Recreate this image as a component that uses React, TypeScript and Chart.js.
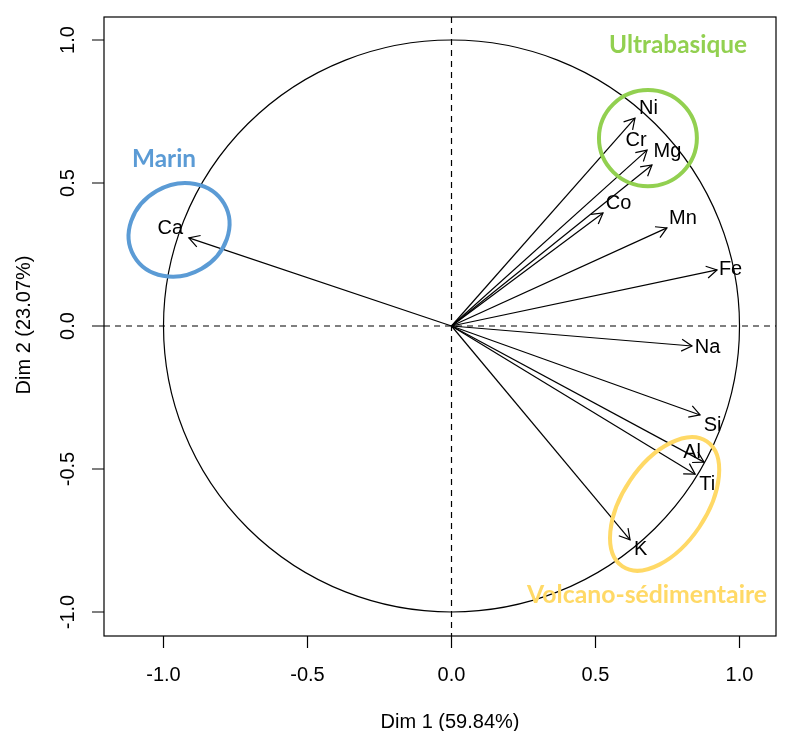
import React, { useEffect, useRef } from "react";
import { Chart, registerables } from "chart.js";
Chart.register(...registerables);

// ---- data ----
const variables = ["Ca", "Ni", "Cr", "Mg", "Co", "Mn", "Fe", "Na", "Si", "Al", "Ti", "K"];
const dim1 = [-0.912, 0.637, 0.679, 0.696, 0.526, 0.748, 0.922, 0.835, 0.863, 0.877, 0.846, 0.62];
const dim2 = [0.308, 0.727, 0.615, 0.563, 0.395, 0.343, 0.196, -0.07, -0.311, -0.476, -0.518, -0.748];
const xTicks = [-1, -0.5, 0, 0.5, 1];
const yTicks = [-1, -0.5, 0, 0.5, 1];
const tickLabels = ["-1.0", "-0.5", "0.0", "0.5", "1.0"];
const xTitle = "Dim 1 (59.84%)";
const yTitle = "Dim 2 (23.07%)";

// group annotations (data coordinates)
const groupNames = ["Ultrabasique", "Marin", "Volcano-sédimentaire"];
const groupCx = [0.682, -0.946, 0.74];
const groupCy = [0.657, 0.336, -0.622];
const groupRx = [0.17, 0.181, 0.262];
const groupRy = [0.168, 0.157, 0.146];
const groupRot = [0, -30, -56];
const groupLabelX = [0.7865, -0.998, 0.679];
const groupLabelY = [0.9545, 0.556, -0.9685];

// ---- style ----
const groupColors = ["#92D050", "#5B9BD5", "#FFD966"];
const groupLabelW = [138, 64, 240];
const labelDx = [-18.5, 13.5, -11, 15.5, 15.5, 16, 13.5, 15.5, 12.5, -12, 12, 10.5];
const labelDy = [-9.5, -10, -10, -13, -9.5, -9.5, 0, 1, 11, -10, 10.5, 10];
const FONT = "20px 'Liberation Sans', Arial, sans-serif";
const LW = 1.2;

const pcaPlugin = {
  id: "pca",
  beforeDatasetsDraw(chart: any) {
    const { ctx, chartArea: a, scales } = chart;
    const x = scales.x, y = scales.y;
    ctx.save();
    ctx.beginPath();
    ctx.rect(a.left, a.top, a.right - a.left, a.bottom - a.top);
    ctx.clip();
    ctx.strokeStyle = "#000";
    ctx.lineWidth = LW;
    const x0 = x.getPixelForValue(0), y0 = y.getPixelForValue(0);
    ctx.setLineDash([6, 5]);
    ctx.beginPath();
    ctx.moveTo(a.left, y0);
    ctx.lineTo(a.right, y0);
    ctx.moveTo(x0, a.top);
    ctx.lineTo(x0, a.bottom);
    ctx.stroke();
    ctx.setLineDash([]);
    const rx = x.getPixelForValue(1) - x0;
    const ry = y0 - y.getPixelForValue(1);
    ctx.beginPath();
    ctx.ellipse(x0, y0, rx, ry, 0, 0, Math.PI * 2);
    ctx.stroke();
    ctx.restore();
  },
  afterDatasetsDraw(chart: any) {
    const { ctx, scales } = chart;
    const x = scales.x, y = scales.y;
    const x0 = x.getPixelForValue(0), y0 = y.getPixelForValue(0);
    ctx.save();
    ctx.strokeStyle = "#000";
    ctx.lineWidth = LW;
    // arrowheads
    for (let i = 0; i < variables.length; i++) {
      const px = x.getPixelForValue(dim1[i]);
      const py = y.getPixelForValue(dim2[i]);
      const ang = Math.atan2(py - y0, px - x0);
      const L = 12, h = Math.PI / 6;
      ctx.beginPath();
      ctx.moveTo(px - L * Math.cos(ang - h), py - L * Math.sin(ang - h));
      ctx.lineTo(px, py);
      ctx.lineTo(px - L * Math.cos(ang + h), py - L * Math.sin(ang + h));
      ctx.stroke();
    }
    // labels
    ctx.fillStyle = "#000";
    ctx.font = FONT;
    ctx.textAlign = "center";
    ctx.textBaseline = "middle";
    for (let i = 0; i < variables.length; i++) {
      const px = x.getPixelForValue(dim1[i]);
      const py = y.getPixelForValue(dim2[i]);
      ctx.fillText(variables[i], px + labelDx[i], py + labelDy[i]);
    }
    // group ellipses
    const ux = x.getPixelForValue(1) - x0;
    const uy = y0 - y.getPixelForValue(1);
    for (let g = 0; g < groupNames.length; g++) {
      ctx.strokeStyle = groupColors[g];
      ctx.lineWidth = 4;
      ctx.beginPath();
      ctx.ellipse(
        x.getPixelForValue(groupCx[g]),
        y.getPixelForValue(groupCy[g]),
        groupRx[g] * ux,
        groupRy[g] * uy,
        (groupRot[g] * Math.PI) / 180,
        0,
        Math.PI * 2
      );
      ctx.stroke();
    }
    // group labels
    ctx.textBaseline = "alphabetic";
    for (let g = 0; g < groupNames.length; g++) {
      ctx.font = "bold 100px Lato, 'Open Sans', sans-serif";
      const w = ctx.measureText(groupNames[g]).width;
      const size = (100 * groupLabelW[g]) / w;
      ctx.font = `bold ${size}px Lato, 'Open Sans', sans-serif`;
      ctx.fillStyle = groupColors[g];
      ctx.fillText(groupNames[g], x.getPixelForValue(groupLabelX[g]), y.getPixelForValue(groupLabelY[g]));
    }
    ctx.restore();
  },
  afterDraw(chart: any) {
    const { ctx, chartArea: a, scales } = chart;
    const x = scales.x, y = scales.y;
    ctx.save();
    ctx.strokeStyle = "#000";
    ctx.lineWidth = LW;
    ctx.strokeRect(a.left, a.top, a.right - a.left, a.bottom - a.top);
    ctx.fillStyle = "#000";
    ctx.font = FONT;
    ctx.textAlign = "center";
    ctx.textBaseline = "alphabetic";
    ctx.beginPath();
    for (const v of xTicks) {
      const px = x.getPixelForValue(v);
      ctx.moveTo(px, a.bottom);
      ctx.lineTo(px, a.bottom + 12);
    }
    for (const v of yTicks) {
      const py = y.getPixelForValue(v);
      ctx.moveTo(a.left - 12, py);
      ctx.lineTo(a.left, py);
    }
    ctx.stroke();
    xTicks.forEach((v, i) => {
      ctx.fillText(tickLabels[i], x.getPixelForValue(v), a.bottom + 45);
    });
    yTicks.forEach((v, i) => {
      ctx.save();
      ctx.translate(a.left - 30, y.getPixelForValue(v));
      ctx.rotate(-Math.PI / 2);
      ctx.fillText(tickLabels[i], 0, 0);
      ctx.restore();
    });
    ctx.fillText(xTitle, 450, 728);
    ctx.save();
    ctx.translate(30, 325);
    ctx.rotate(-Math.PI / 2);
    ctx.fillText(yTitle, 0, 0);
    ctx.restore();
    ctx.restore();
  },
};

export default function App() {
  const ref = useRef<HTMLCanvasElement | null>(null);
  useEffect(() => {
    if (!ref.current) return;
    const datasets = variables.map((v, i) => ({
      label: v,
      data: [
        { x: 0, y: 0 },
        { x: dim1[i], y: dim2[i] },
      ],
      showLine: true,
      borderColor: "#000",
      borderWidth: LW,
      pointRadius: 0,
      pointHoverRadius: 0,
      fill: false,
    }));
    const chart = new Chart(ref.current, {
      type: "scatter",
      data: { datasets },
      options: {
        animation: false,
        responsive: false,
        devicePixelRatio: 1,
        layout: { padding: { left: 104, right: 13, top: 17, bottom: 95 } },
        plugins: { legend: { display: false }, tooltip: { enabled: false } },
        events: [],
        scales: {
          x: { type: "linear", min: -1.2066, max: 1.1267, display: false },
          y: { type: "linear", min: -1.0839, max: 1.0804, display: false },
        },
      },
      plugins: [pcaPlugin],
    } as any);
    return () => chart.destroy();
  }, []);
  return (
    <div style={{ position: "fixed", left: 0, top: 0, width: 789, height: 731, background: "#fff" }}>
      <canvas ref={ref} width={789} height={731} style={{ display: "block" }} />
    </div>
  );
}
